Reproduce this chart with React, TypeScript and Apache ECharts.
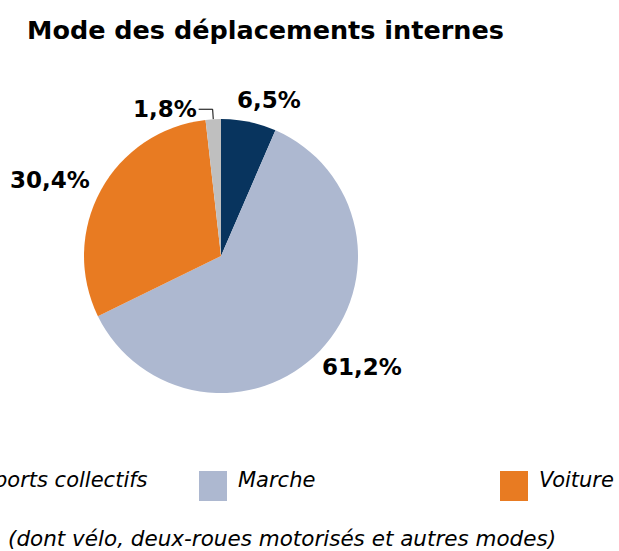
import React, { useEffect, useRef } from "react";
import * as echarts from "echarts";

const title = "Mode des déplacements internes";
const categories = ["Transports collectifs", "Marche", "Voiture", "Autres"];
const values = [6.5, 61.2, 30.4, 1.8];
const colors = ["#08345e", "#adb8d0", "#e87b22", "#bfbfbf"];
const footnote = "(dont vélo, deux-roues motorisés et autres modes)";

const FONT = "'DejaVu Sans', Verdana, sans-serif";

export default function App() {
  const ref = useRef<HTMLDivElement>(null);
  useEffect(() => {
    if (!ref.current) return;
    const chart = echarts.init(ref.current, undefined, { renderer: "svg" });
    const fmt = (v: number) => v.toFixed(1).replace(".", ",") + "%";

    const legendGap = 301;
    const legendX0 = -102;
    const legendGraphics: any[] = [];
    categories.forEach((c, i) => {
      const x = legendX0 + i * legendGap;
      legendGraphics.push({
        type: "rect",
        shape: { x, y: 471, width: 28, height: 30 },
        style: { fill: colors[i] },
      });
      legendGraphics.push({
        type: "text",
        x: x + 39,
        y: 480,
        style: {
          text: c,
          font: `italic 21px ${FONT}`,
          fill: "#000",
          textAlign: "left",
          textVerticalAlign: "middle",
        },
      });
    });
    legendGraphics.push({
      type: "text",
      x: 8,
      y: 538,
      style: {
        text: footnote,
        font: `italic 21.5px ${FONT}`,
        fill: "#000",
        textAlign: "left",
        textVerticalAlign: "middle",
      },
    });

    const labelPlace: Record<number, [number, number]> = {
      0: [269, 100],
      1: [362, 367],
      2: [50, 180],
    };

    chart.setOption({
      animation: false,
      backgroundColor: "#ffffff",
      title: {
        text: title,
        left: 22,
        top: 12,
        textStyle: { fontFamily: FONT, fontSize: 25.5, fontWeight: "bold", color: "#000" },
      },
      graphic: legendGraphics,
      series: [
        {
          type: "pie",
          center: [221, 256],
          radius: [0, 137],
          startAngle: 90,
          clockwise: true,
          avoidLabelOverlap: false,
          silent: true,
          data: categories.map((c, i) => ({
            name: c,
            value: values[i],
            itemStyle: { color: colors[i] },
            labelLine:
              i === 3
                ? { show: true, length: 10, length2: 14, lineStyle: { color: "#000", width: 1 } }
                : { show: false },
          })),
          label: {
            show: true,
            position: "outside",
            formatter: (p: any) => fmt(p.value),
            fontFamily: FONT,
            fontSize: 23,
            fontWeight: "bold",
            color: "#000",
            distanceToLabelLine: 2,
          },
          labelLayout: (p: any) => {
            const pos = labelPlace[p.dataIndex];
            if (!pos) return {};
            return { x: pos[0], y: pos[1], align: "center", verticalAlign: "middle" };
          },
        },
      ],
    });
    return () => chart.dispose();
  }, []);
  return (
    <div
      ref={ref}
      style={{ position: "fixed", left: 0, top: 0, width: 619, height: 551 }}
    />
  );
}
